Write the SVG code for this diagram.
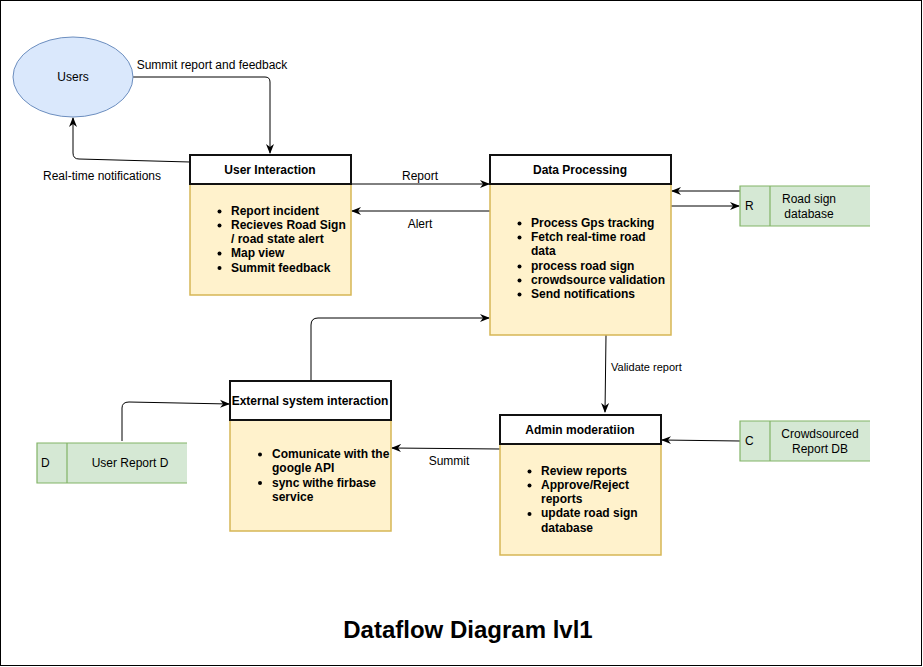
<svg xmlns="http://www.w3.org/2000/svg" width="923" height="667" viewBox="0 0 923 667">
<defs>
<marker id="arr" viewBox="0 0 10 10" refX="9" refY="5" markerWidth="10" markerHeight="10" markerUnits="userSpaceOnUse" orient="auto">
<path d="M0,1 L10,5 L0,9 L3,5 Z" fill="#000"/>
</marker>
<style>
text{font-family:"Liberation Sans",Arial,Helvetica,sans-serif;fill:#000}
.lbl{font-size:12px}
.sm{font-size:11px}
.hd{font-size:12px;font-weight:bold;text-anchor:middle}
.bl{font-size:12px;font-weight:bold}
.mid{text-anchor:middle}
.head{fill:#fff;stroke:#111;stroke-width:2}
.body{fill:#fff2cc;stroke:#d6b656;stroke-width:1.5}
.store{fill:#d5e8d4;stroke:none}
.storeLine{fill:none;stroke:#82b366;stroke-width:1.2}
.edge{fill:none;stroke:#000;stroke-width:1;marker-end:url(#arr)}
.dot{fill:#000}
</style>
</defs>
<rect x="0.5" y="0.5" width="921" height="665" fill="#fff" stroke="#000" stroke-width="1"/>

<g id="connectors">
<path class="edge" d="M133,77 L265,77 Q270,77 270,82 L270,153"/>
<path class="edge" d="M190,162 L79,159 Q73,159 73,153 L73,118"/>
<path class="edge" d="M351,184 L489,184"/>
<path class="edge" d="M490,211 L352,211"/>
<path class="edge" d="M740,191 L672,191"/>
<path class="edge" d="M671,206 L739,206"/>
<path class="edge" d="M311,380 L311,325 Q311,318 318,318 L489,318"/>
<path class="edge" d="M122,441 L122,408 Q122,402 129,402 L229,404"/>
<path class="edge" d="M606,335 L605,412"/>
<path class="edge" d="M740,441 L662,440"/>
<path class="edge" d="M500,449 L392,448"/>
<text class="lbl mid" x="212" y="69">Summit report and feedback</text>
<text class="lbl mid" x="102" y="180">Real-time notifications</text>
<text class="lbl mid" x="420" y="180">Report</text>
<text class="lbl mid" x="420" y="228">Alert</text>
<text class="sm" x="611" y="371">Validate report</text>
<text class="lbl mid" x="449" y="465">Summit</text>
</g>

<g id="users">
<ellipse cx="73" cy="77" rx="60" ry="40" fill="#dae8fc" stroke="#6c8ebf" stroke-width="1"/>
<text class="lbl mid" x="73" y="81">Users</text>
</g>

<g id="user-interaction">
<rect class="body" x="190" y="184" width="161" height="111"/>
<rect class="head" x="190" y="155" width="161" height="29"/>
<text class="hd" x="270" y="174">User Interaction</text>
<circle class="dot" cx="219.5" cy="211.5" r="2"/>
<circle class="dot" cx="219.5" cy="225.5" r="2"/>
<circle class="dot" cx="219.5" cy="253.5" r="2"/>
<circle class="dot" cx="219.5" cy="268" r="2"/>
<text class="bl" x="231" y="215">Report incident</text>
<text class="bl" x="231" y="229">Recieves Road Sign</text>
<text class="bl" x="231" y="243">/ road state alert</text>
<text class="bl" x="231" y="257">Map view</text>
<text class="bl" x="231" y="272">Summit feedback</text>
</g>

<g id="data-processing">
<rect class="body" x="490" y="184" width="181" height="151"/>
<rect class="head" x="490" y="155" width="181" height="29"/>
<text class="hd" x="580" y="174">Data Processing</text>
<circle class="dot" cx="519.5" cy="223.5" r="2"/>
<circle class="dot" cx="519.5" cy="237.5" r="2"/>
<circle class="dot" cx="519.5" cy="266.5" r="2"/>
<circle class="dot" cx="519.5" cy="280.5" r="2"/>
<circle class="dot" cx="519.5" cy="294.5" r="2"/>
<text class="bl" x="531" y="227">Process Gps tracking</text>
<text class="bl" x="531" y="241">Fetch real-time road</text>
<text class="bl" x="531" y="255">data</text>
<text class="bl" x="531" y="270">process road sign</text>
<text class="bl" x="531" y="284">crowdsource validation</text>
<text class="bl" x="531" y="298">Send notifications</text>
</g>

<g id="road-sign-db">
<rect class="store" x="740" y="186" width="130" height="40"/>
<path class="storeLine" d="M870,186 L740,186 L740,226 L870,226 M770,186 L770,226"/>
<text class="lbl" x="745" y="210">R</text>
<text class="lbl mid" x="809" y="203">Road sign</text>
<text class="lbl mid" x="809" y="218">database</text>
</g>

<g id="external-system">
<rect class="body" x="230" y="420" width="161" height="111"/>
<rect class="head" x="230" y="381" width="161" height="39"/>
<text class="hd" x="310" y="405">External system interaction</text>
<circle class="dot" cx="260" cy="454.5" r="2"/>
<circle class="dot" cx="260" cy="483" r="2"/>
<text class="bl" x="272" y="458">Comunicate with the</text>
<text class="bl" x="272" y="472">google API</text>
<text class="bl" x="272" y="487">sync withe firbase</text>
<text class="bl" x="272" y="501">service</text>
</g>

<g id="user-report-db">
<rect class="store" x="37" y="443" width="150" height="40"/>
<path class="storeLine" d="M187,443 L37,443 L37,483 L187,483 M67,443 L67,483"/>
<text class="lbl" x="41" y="467">D</text>
<text class="lbl mid" x="130" y="467">User Report D</text>
</g>

<g id="admin-moderation">
<rect class="body" x="500" y="444" width="161" height="111"/>
<rect class="head" x="500" y="415" width="161" height="29"/>
<text class="hd" x="580" y="434">Admin moderatiion</text>
<circle class="dot" cx="529.5" cy="471.5" r="2"/>
<circle class="dot" cx="529.5" cy="485.5" r="2"/>
<circle class="dot" cx="529.5" cy="514" r="2"/>
<text class="bl" x="541" y="475">Review reports</text>
<text class="bl" x="541" y="489">Approve/Reject</text>
<text class="bl" x="541" y="503">reports</text>
<text class="bl" x="541" y="517">update road sign</text>
<text class="bl" x="541" y="532">database</text>
</g>

<g id="crowdsourced-db">
<rect class="store" x="740" y="421" width="130" height="40"/>
<path class="storeLine" d="M870,421 L740,421 L740,461 L870,461 M770,421 L770,461"/>
<text class="lbl" x="745" y="445">C</text>
<text class="lbl mid" x="820" y="438">Crowdsourced</text>
<text class="lbl mid" x="820" y="453">Report DB</text>
</g>

<g id="title">
<text x="468" y="638" style="font-size:24px;font-weight:bold;text-anchor:middle">Dataflow Diagram lvl1</text>
</g>
</svg>
